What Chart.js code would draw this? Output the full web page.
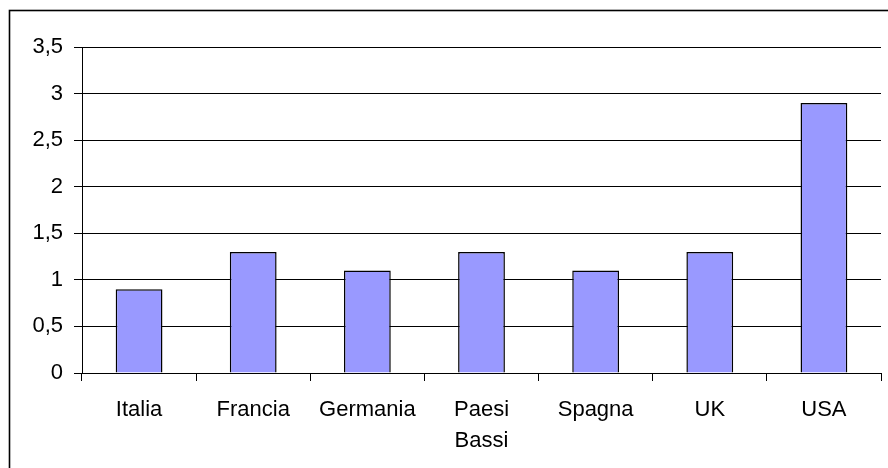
<!DOCTYPE html>
<html>
<head>
<meta charset="utf-8">
<script src="https://cdn.jsdelivr.net/npm/chart.js@4/dist/chart.umd.min.js"></script>
<style>
  html, body { margin: 0; padding: 0; background: #fff; }
  #wrap { width: 888px; height: 468px; position: relative; }
</style>
</head>
<body>
<div id="wrap"><canvas id="c" width="888" height="468"></canvas></div>
<script>
// Countries along the x axis
const categories = ['Italia', 'Francia', 'Germania', ['Paesi', 'Bassi'], 'Spagna', 'UK', 'USA'];
// One value per country
const values = [0.9, 1.3, 1.1, 1.3, 1.1, 1.3, 2.9];
// Y axis labels, decimal comma
const yTickLabels = ['0', '0,5', '1', '1,5', '2', '2,5', '3', '3,5'];

const FONT = "'Liberation Sans', Arial, sans-serif";

// Frame line along the top and left edges of the figure
const framePlugin = {
  id: 'frame',
  beforeDraw(chart) {
    const ctx = chart.ctx;
    ctx.save();
    ctx.fillStyle = '#fff';
    ctx.fillRect(0, 0, chart.width, chart.height);
    ctx.strokeStyle = '#000';
    ctx.lineWidth = 1.6;
    ctx.strokeRect(9.5, 10.5, chart.width + 20, chart.height + 20);
    ctx.restore();
  }
};

new Chart(document.getElementById('c'), {
  type: 'bar',
  data: {
    labels: categories,
    datasets: [{
      data: values,
      backgroundColor: '#9999FF',
      borderColor: '#000',
      borderWidth: 1.5,
      barPercentage: 0.41,
      categoryPercentage: 1.0
    }]
  },
  plugins: [framePlugin],
  options: {
    responsive: false,
    animation: false,
    layout: { padding: { top: 47, right: 7, bottom: 0, left: 0 } },
    plugins: { legend: { display: false }, tooltip: { enabled: false } },
    scales: {
      x: {
        offset: true,
        grid: { offset: true, drawOnChartArea: false, color: '#000', tickLength: 8, lineWidth: 1 },
        border: { display: true, color: '#000', width: 1 },
        ticks: {
          color: '#000',
          font: { family: FONT, size: 22, lineHeight: 1.41 },
          padding: 13,
          maxRotation: 0,
          autoSkip: false
        },
        afterFit(scale) { scale.height = 95; }
      },
      y: {
        min: 0,
        max: 3.5,
        grid: { color: '#000', tickLength: 8, lineWidth: 1 },
        border: { display: true, color: '#000', width: 1 },
        ticks: {
          stepSize: 0.5,
          color: '#000',
          font: { family: FONT, size: 22 },
          padding: 11,
          callback: (v, i) => yTickLabels[i]
        },
        afterFit(scale) { scale.width = 82; }
      }
    }
  }
});
</script>
</body>
</html>
